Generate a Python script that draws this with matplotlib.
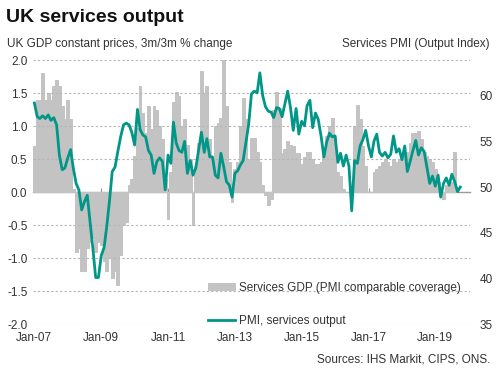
import pandas as pd
import matplotlib
matplotlib.use('Agg')
import matplotlib.pyplot as plt
import matplotlib.dates as mdates

plt.rcParams['font.family'] = ['Liberation Sans', 'DejaVu Sans']

# Services GDP, 3m/3m % change (monthly, Jan-07 onwards)
gdp = [
    0.7, 1.4, 1.4, 1.8, 1.4, 1.5, 1.4, 1.6, 1.7, 1.6, 1.3, 1.1,            # 2007
    1.4, 1.1, 0.05, -0.9, -0.85, -1.2, -1.2, -0.85, -0.75, -0.7, -0.9, -0.75,  # 2008
    -0.8, -1.05, -1.2, -1.0, -1.3, -1.2, -1.4, -0.95, -0.5, -0.45, 0.1, 0.2,   # 2009
    0.55, 0.97, 1.6, 1.2, 0.9, 1.3, 0.95, 1.3, 1.25, 1.0, 0.8, 0.2,         # 2010
    -0.4, 0.3, 1.37, 1.52, 1.45, 1.0, 1.1, 0.71, 0.5, -0.5, 0.4, 0.75,      # 2011
    1.83, 1.5, 1.6, 0.8, 0.5, 1.0, 1.05, 1.12, 2.0, 1.3, 0.46, -0.15,       # 2012
    0.35, 0.45, 1.0, 1.42, 1.1, 0.5, 0.82, 0.82, 0.6, 0.45, 0.1, -0.05,     # 2013
    -0.2, -0.1, 1.25, 1.52, 1.27, 0.59, 0.65, 0.78, 0.72, 0.7, 0.59, 0.59,  # 2014
    0.43, 0.53, 0.6, 0.6, 0.5, 0.42, 0.42, 0.45, 0.55, 0.85, 1.0, 1.12,     # 2015
    0.85, 0.3, 0.25, 0.05, 0.0, 0.0, 0.0, 1.0, 1.32, 1.1, 0.7, 0.4,         # 2016
    0.0, 0.0, 0.3, 0.35, 0.4, 0.45, 0.5, 0.45, 0.4, 0.5, 0.45, 0.5,         # 2017
    0.5, 0.55, 0.6, 0.75, 0.9, 0.9, 0.93, 0.8, 0.6, 0.55, 0.5, 0.45,        # 2018
    0.35, 0.15, -0.05, -0.1, 0.1, 0.15, 0.15, 0.6,                          # 2019
]

# Services PMI output index (monthly, Jan-07 onwards)
pmi = [
    59.2, 57.7, 57.5, 57.8, 57.5, 57.9, 57.3, 57.6, 56.8, 53.5, 51.9, 52.1,  # 2007
    53.2, 54.1, 52.1, 50.4, 49.7, 47.5, 48.4, 49.1, 46.2, 43.3, 40.1, 40.1,  # 2008
    42.5, 43.4, 45.6, 48.5, 51.7, 52.2, 53.9, 55.5, 56.8, 57.0, 56.8, 56.0,  # 2009
    54.6, 58.5, 56.3, 55.7, 55.5, 54.0, 53.5, 51.5, 52.8, 53.2, 52.8, 49.7,  # 2010
    53.5, 52.6, 57.1, 54.8, 54.0, 53.8, 55.0, 51.5, 52.9, 51.3, 52.1, 54.0,  # 2011
    56.0, 53.8, 55.3, 53.3, 53.3, 51.3, 51.0, 53.7, 52.2, 50.6, 50.2, 48.9,  # 2012
    51.5, 51.8, 52.4, 52.9, 54.9, 56.9, 60.2, 60.5, 60.3, 62.5, 60.0, 58.8,  # 2013
    58.3, 58.2, 57.6, 58.7, 58.6, 57.7, 59.1, 60.5, 58.7, 56.2, 58.6, 55.8,  # 2014
    57.2, 56.7, 58.9, 59.5, 56.5, 58.1, 57.4, 55.6, 53.3, 54.9, 55.9, 55.5,  # 2015
    55.6, 52.7, 53.7, 52.3, 53.5, 52.3, 47.4, 52.9, 52.6, 54.5, 55.2, 56.2,  # 2016
    54.5, 53.3, 55.0, 55.8, 53.8, 53.4, 53.8, 53.2, 53.6, 55.6, 53.8, 54.2,  # 2017
    53.0, 54.5, 51.7, 52.8, 54.0, 55.1, 53.5, 54.3, 53.9, 52.2, 50.4, 51.2,  # 2018
    50.1, 51.3, 48.9, 50.4, 51.0, 50.2, 51.4, 50.6, 49.5, 50.0,              # 2019
]

tick_years = [2007, 2009, 2011, 2013, 2015, 2017, 2019]

gdp_dates = pd.date_range('2007-01-01', periods=len(gdp), freq='MS')
pmi_dates = pd.date_range('2007-01-01', periods=len(pmi), freq='MS')
tick_dates = [pd.Timestamp(f'{y}-01-01') for y in tick_years]

bar_col = '#c3c3c3'
line_col = '#009688'
txt_col = '#333333'

fig = plt.figure(figsize=(4.99, 3.73), dpi=100)
ax = fig.add_axes([0.066, 0.131, 0.876, 0.708])

ax.bar(gdp_dates, gdp, width=31, color=bar_col, edgecolor=bar_col, linewidth=0.7,
       label='Services GDP (PMI comparable coverage)', zorder=1)
ax.set_ylim(-2.0, 2.0)
ax.set_yticks([-2.0, -1.5, -1.0, -0.5, 0.0, 0.5, 1.0, 1.5, 2.0])
ax.set_yticklabels(['-2.0', '-1.5', '-1.0', '-0.5', '0.0', '0.5', '1.0', '1.5', '2.0'])
for v in [-2.0, -1.5, -1.0, -0.5, 0.5, 1.0, 1.5, 2.0]:
    ax.axhline(v, color='#b5b5b5', lw=0.8, ls=(0, (2, 2)), zorder=2)
ax.set_xlim(pd.Timestamp('2006-12-16'), pd.Timestamp('2020-01-16'))
ax.set_xticks(tick_dates)
ax.xaxis.set_major_formatter(mdates.DateFormatter('%b-%y'))
ax.tick_params(axis='x', length=0, pad=6, labelsize=8.5, labelcolor=txt_col)
ax.tick_params(axis='y', length=0, pad=4, labelsize=8.5, labelcolor=txt_col)
for s in ax.spines.values():
    s.set_visible(False)

# zero line with small ticks
zero = ax.secondary_xaxis(0.5)
zero.set_xticks(tick_dates)
zero.set_xticklabels([''] * len(tick_dates))
zero.tick_params(axis='x', length=3, width=0.8, color='#999999',
                 labelbottom=False, labeltop=False)
for s in zero.spines.values():
    s.set_color('#999999')
    s.set_linewidth(1.0)

ax2 = ax.twinx()
ax2.plot(pmi_dates, pmi, color=line_col, lw=2.0, label='PMI, services output', zorder=5)
ax2.set_ylim(35, 63.9)
ax2.set_yticks([35, 40, 45, 50, 55, 60])
ax2.tick_params(axis='y', length=0, pad=7, labelsize=8.5, labelcolor=txt_col)
for s in ax2.spines.values():
    s.set_visible(False)

h1, l1 = ax.get_legend_handles_labels()
h2, l2 = ax2.get_legend_handles_labels()
fig.legend(h1 + h2, l1 + l2, loc='upper left', bbox_to_anchor=(0.405, 0.26),
           frameon=False, fontsize=8.5, handlelength=2.3, handleheight=0.5,
           handletextpad=0.3, labelspacing=1.75, borderpad=0, labelcolor=txt_col)

fig.text(0.012, 0.952, 'UK services output', fontsize=14, fontweight='bold',
         color='#111111', va='center', ha='left')
fig.text(0.014, 0.882, 'UK GDP constant prices, 3m/3m % change', fontsize=8.5,
         color=txt_col, va='center', ha='left')
fig.text(0.982, 0.882, 'Services PMI (Output Index)', fontsize=8.5,
         color=txt_col, va='center', ha='right')
fig.text(0.982, 0.035, 'Sources: IHS Markit, CIPS, ONS.', fontsize=8.5,
         color=txt_col, va='center', ha='right')

fig.savefig('out.png', dpi=100)
